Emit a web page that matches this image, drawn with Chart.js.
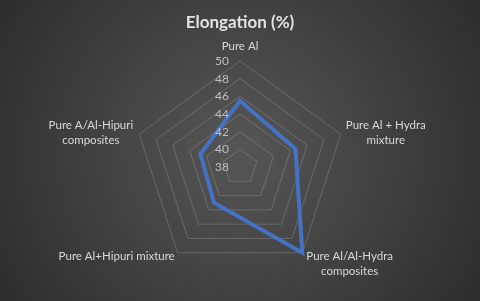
<!DOCTYPE html>
<html>
<head>
<meta charset="utf-8">
<script src="https://cdn.jsdelivr.net/npm/chart.js@4/dist/chart.umd.min.js"></script>
<style>
html,body{margin:0;padding:0;background:#3a3a3a;}
#wrap{width:480px;height:301px;position:relative;}
</style>
</head>
<body>
<div id="wrap"><canvas id="c" width="480" height="301"></canvas></div>
<script>
const categories = [
  ['Pure Al'],
  ['Pure Al + Hydra', 'mixture'],
  ['Pure Al/Al-Hydra', 'composites'],
  ['Pure Al+Hipuri mixture'],
  ['Pure A/Al-Hipuri', 'composites']
];
const elongation = [45.5, 44.6, 50.0, 43.0, 42.7];
const tickMin = 38;
const tickMax = 50;
const tickStep = 2;
const titleText = 'Elongation (%)';

const LABEL_FONT = '11.5px Lato';
const TEXT_COLOR = '#d9d9d9';

const bgPlugin = {
  id: 'bg',
  beforeDraw(chart) {
    const ctx = chart.ctx;
    const w = chart.width, h = chart.height;
    const g = ctx.createRadialGradient(w/2, h/2, 0, w/2, h/2, 290);
    g.addColorStop(0, '#565656');
    g.addColorStop(1, '#2c2c2c');
    ctx.save();
    ctx.fillStyle = g;
    ctx.fillRect(0, 0, w, h);
    ctx.restore();
  }
};

const labelPlugin = {
  id: 'customLabels',
  afterDraw(chart) {
    const scale = chart.scales.r;
    const ctx = chart.ctx;
    ctx.save();
    ctx.font = '12px Lato';
    ctx.fillStyle = '#bfbfbf';
    ctx.textAlign = 'right';
    ctx.textBaseline = 'middle';
    scale.ticks.forEach(t => {
      const d = scale.getDistanceFromCenterForValue(t.value);
      ctx.fillText(String(t.value), scale.xCenter - 11, scale.yCenter - d);
    });
    ctx.font = LABEL_FONT;
    ctx.fillStyle = TEXT_COLOR;
    ctx.textAlign = 'center';
    ctx.textBaseline = 'middle';
    const lh = 15;
    categories.forEach((lines, i) => {
      const p = scale.getPointPosition(i, scale.drawingArea);
      const widths = lines.map(s => ctx.measureText(s).width);
      const bw = Math.max(...widths);
      const dx = p.x - scale.xCenter;
      const dy = p.y - scale.yCenter;
      let cx, cy;
      if (Math.abs(dx) < 2) {
        cx = p.x; cy = p.y - 15 - (lines.length - 1) * lh / 2;
      } else if (dy < 0) {
        cx = dx > 0 ? p.x + 5 + bw / 2 : p.x - 6 - bw / 2;
        cy = p.y - 1;
      } else {
        cx = dx > 0 ? p.x + 4 + bw / 2 : p.x - 3 - bw / 2;
        cy = p.y + 4 + (lines.length - 1) * lh / 2;
      }
      const top = cy - (lines.length - 1) * lh / 2;
      lines.forEach((s, k) => ctx.fillText(s, cx, top + k * lh));
    });
    ctx.restore();
  }
};

new Chart(document.getElementById('c'), {
  type: 'radar',
  data: {
    labels: categories,
    datasets: [{
      label: 'Elongation (%)',
      data: elongation,
      borderColor: '#4472C4',
      borderWidth: 4,
      fill: false,
      pointRadius: 0,
      pointHoverRadius: 0,
      tension: 0
    }]
  },
  options: {
    responsive: false,
    animation: false,
    devicePixelRatio: 1,
    layout: { padding: { left: 100, right: 100, top: 0, bottom: 27 } },
    plugins: {
      legend: { display: false },
      tooltip: { enabled: false },
      title: {
        display: true,
        text: titleText,
        color: '#e3e3e3',
        font: { family: 'Lato', size: 17, weight: 'bold', lineHeight: 1.2 },
        padding: { top: 12, bottom: 29 }
      }
    },
    scales: {
      r: {
        min: tickMin,
        max: tickMax,
        ticks: { stepSize: tickStep, display: false },
        grid: { color: 'rgba(217,217,217,0.22)', lineWidth: 1 },
        angleLines: { display: false },
        pointLabels: { display: false }
      }
    }
  },
  plugins: [bgPlugin, labelPlugin]
});
</script>
</body>
</html>
